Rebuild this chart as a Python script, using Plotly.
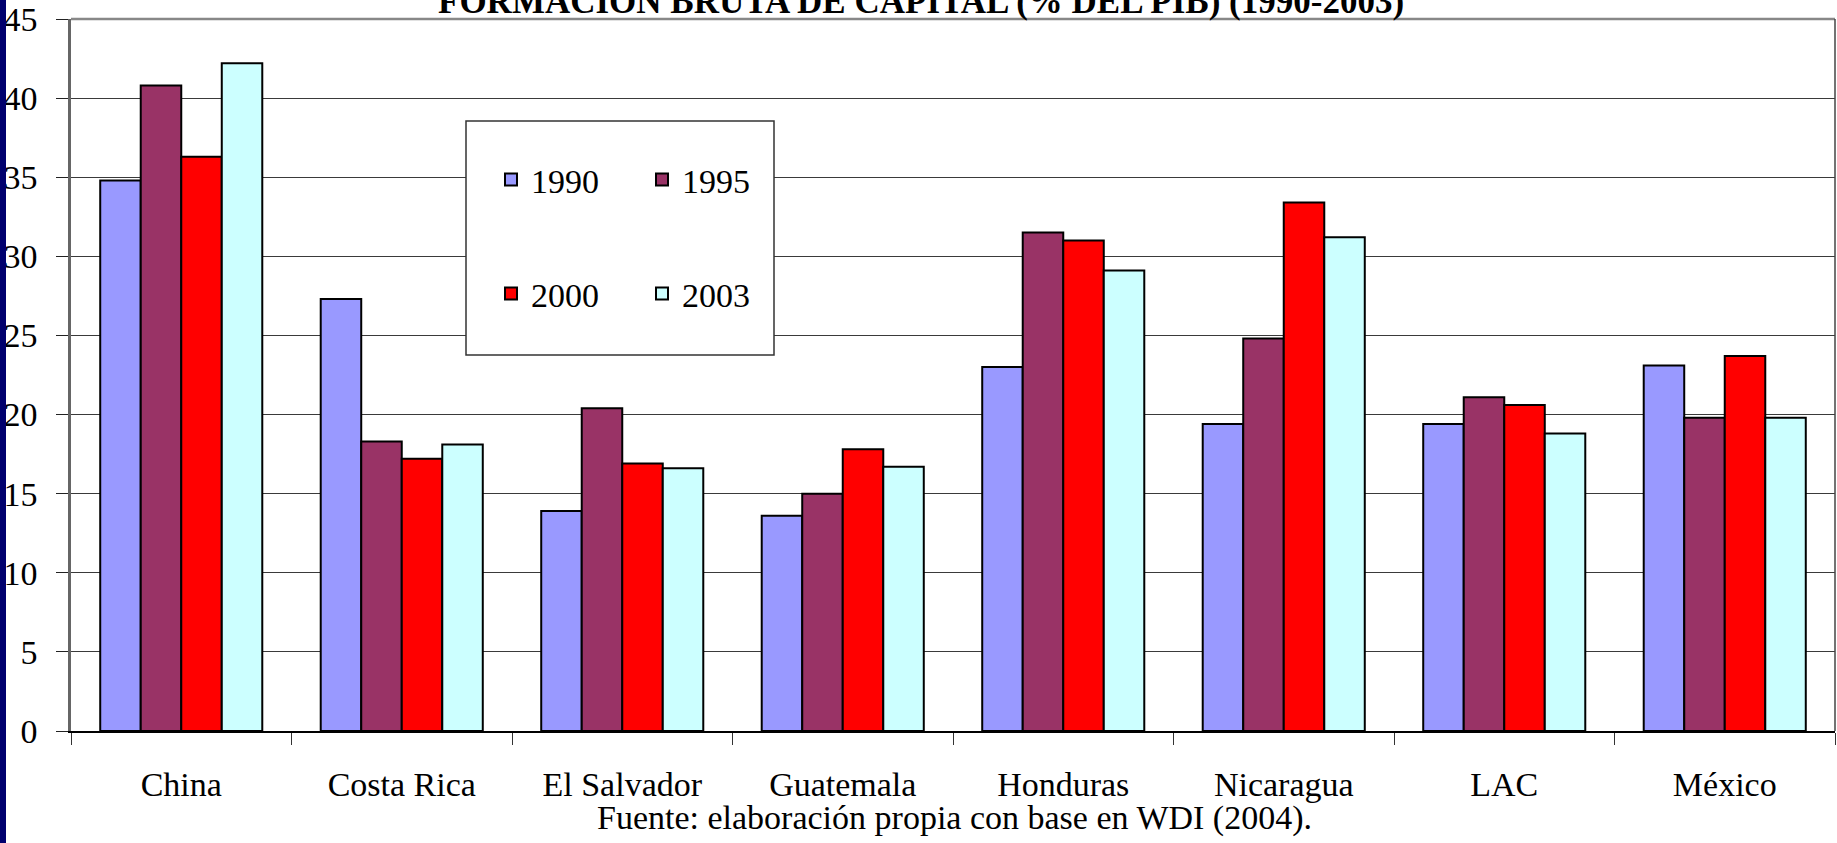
import plotly.graph_objects as go

categories = ["China", "Costa Rica", "El Salvador", "Guatemala", "Honduras", "Nicaragua", "LAC", "México"]
years = ["1990", "1995", "2000", "2003"]
v1990 = [34.8, 27.3, 13.9, 13.6, 23.0, 19.4, 19.4, 23.1]
v1995 = [40.8, 18.3, 20.4, 15.0, 31.5, 24.8, 21.1, 19.8]
v2000 = [36.3, 17.2, 16.9, 17.8, 31.0, 33.4, 20.6, 23.7]
v2003 = [42.2, 18.1, 16.6, 16.7, 29.1, 31.2, 18.8, 19.8]
series = [v1990, v1995, v2000, v2003]
colors = ["#9999FF", "#993366", "#FF0000", "#CCFFFF"]
legend_ids = ["legend", "legend", "legend2", "legend2"]

title_text = "FORMACIÓN BRUTA DE CAPITAL (% DEL PIB) (1990-2003)"
source_text = "Fuente: elaboración propia con base en WDI (2004)."

FONT = "Liberation Serif, Times New Roman, serif"
W, H = 1837, 843
ML, MR, MT, MB = 71, 2, 19, 112
PW = W - ML - MR
PH = H - MT - MB


def px_x(p):
    return (p - ML) / PW


def px_y(p):
    return 1 - (p - MT) / PH


fig = go.Figure()
for name, vals, col, lg in zip(years, series, colors, legend_ids):
    fig.add_trace(go.Bar(
        x=categories, y=vals, name=name, legend=lg,
        marker=dict(color=col, line=dict(color="black", width=2)),
    ))

legend_common = dict(
    orientation="h", xanchor="left", yanchor="middle",
    bgcolor="rgba(0,0,0,0)", borderwidth=0, font=dict(size=34, family=FONT),
    entrywidth=106, entrywidthmode="pixels", traceorder="normal",
)

fig.update_layout(
    width=W, height=H,
    margin=dict(l=ML, r=MR, t=MT, b=MB, autoexpand=False),
    paper_bgcolor="white", plot_bgcolor="white",
    font=dict(family=FONT, color="black", size=30),
    barmode="group", bargap=0.265, bargroupgap=0,
    showlegend=True,
    legend=dict(x=px_x(491), y=px_y(180), **legend_common),
    legend2=dict(x=px_x(491), y=px_y(294), **legend_common),
    xaxis=dict(
        showgrid=False, showline=True, linecolor="black", linewidth=1.5,
        ticks="outside", ticklen=12, tickcolor="#333", tickwidth=1,
        tickson="boundaries", tickfont=dict(size=34, family=FONT),
        ticklabelstandoff=22, mirror=False, fixedrange=True,
    ),
    yaxis=dict(
        range=[0, 45], dtick=5, tick0=0, showgrid=True, gridcolor="#3a3a3a", gridwidth=1,
        showline=True, linecolor="#666666", linewidth=2.5, mirror=False,
        ticks="outside", ticklen=12, tickcolor="#222", tickwidth=1,
        tickfont=dict(size=34, family=FONT), ticklabelstandoff=12, zeroline=False,
        fixedrange=True,
    ),
    shapes=[
        # legend frame
        dict(type="rect", xref="paper", yref="paper",
             x0=px_x(466), x1=px_x(774), y0=px_y(355), y1=px_y(121),
             line=dict(color="#333333", width=1.5), fillcolor="white", layer="above"),
        # top border of plot
        dict(type="line", xref="paper", yref="paper", x0=0, x1=1, y0=1, y1=1,
             line=dict(color="#888888", width=2.5)),
        # right border of plot
        dict(type="line", xref="paper", yref="paper", x0=1, x1=1, y0=0, y1=1,
             line=dict(color="#444444", width=1.5)),
        # navy strip at left edge of page
        dict(type="rect", xref="paper", yref="paper",
             x0=px_x(-2), x1=px_x(6), y0=px_y(H + 5), y1=px_y(-5),
             line=dict(width=0), fillcolor="#00006e", layer="above"),
    ],
    annotations=[
        dict(text=f"<b>{title_text}</b>", xref="paper", yref="paper",
             x=px_x(921), y=px_y(23), xanchor="center", yanchor="bottom",
             showarrow=False, font=dict(size=35, family=FONT)),
        dict(text=source_text, xref="paper", yref="paper",
             x=px_x(955), y=px_y(818), xanchor="center", yanchor="middle",
             showarrow=False, font=dict(size=34, family=FONT)),
    ],
)

fig.write_html(
    "out.html",
    config={"displayModeBar": False},
    post_script="document.body.style.margin='0';document.body.style.overflow='hidden';",
)
